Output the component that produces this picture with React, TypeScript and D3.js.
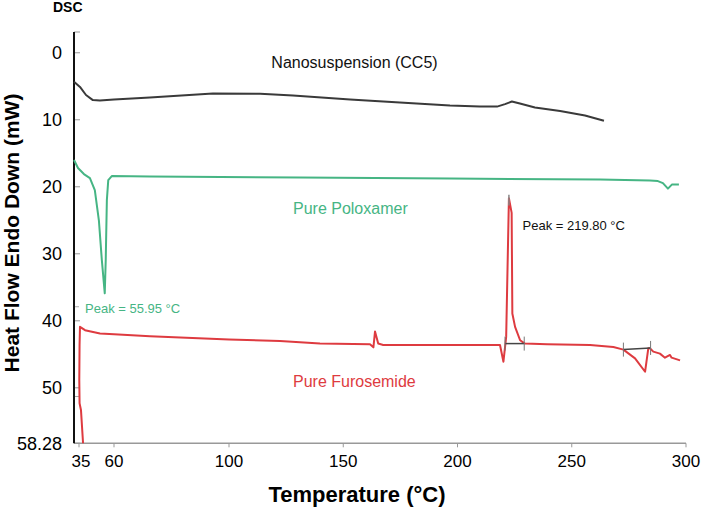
import React from "react";
import * as d3 from "d3";

// Nanosuspension (CC5)
const nanoTemp = [31.5, 35.7, 40, 44.9, 49.9, 60, 72.5, 94.4, 113.6, 128, 153, 174.8, 196.7, 209.8, 217.3, 220.8, 223.8, 227.3, 233.9, 244.9, 255.8, 264.1];
const nanoFlow = [4.33, 5.1, 6.3, 7.06, 7.13, 6.98, 6.69, 6.06, 6.13, 6.39, 6.98, 7.43, 7.88, 8.03, 8.03, 7.66, 7.28, 7.58, 8.18, 8.7, 9.37, 10.15];

// Pure Poloxamer
const poloTemp = [31.5, 34.3, 38.5, 42.8, 46.3, 49.2, 51.3, 53.4, 54.1, 54.9, 55.9, 58.4, 72.5, 131, 196.7, 262.4, 284.2, 287.7, 289.9, 292.1, 293.8, 296.9];
const poloFlow = [16.0, 17.2, 18.1, 18.7, 20.5, 25.0, 30.9, 35.9, 30.9, 22.0, 19.0, 18.4, 18.48, 18.63, 18.78, 18.93, 19.07, 19.15, 19.45, 20.27, 19.67, 19.67];

// Pure Furosemide
const furoTemp = [37.9, 36.4, 35.4, 35.2, 35.4, 35.7, 37.1, 39.3, 50, 60, 72.5, 100, 122.3, 139.8, 161.7, 163.2, 163.9, 165.3, 167.5, 196.7, 218.6, 220.1, 221.3, 222.5, 223.7, 224.0, 225.2, 227.4, 229.5, 239.2, 258.0, 268.2, 272.6, 277.7, 282.1, 283.5, 284.2, 285.7, 288.6, 290.8, 293.0, 293.7, 297.4];
const furoFlow = [58.28, 53.3, 52.3, 48.8, 43.6, 40.9, 41.1, 41.4, 41.9, 42.0, 42.3, 42.8, 43.0, 43.4, 43.5, 43.96, 41.6, 43.4, 43.6, 43.6, 43.6, 46.1, 42.4, 21.7, 23.9, 38.9, 40.9, 42.9, 43.4, 43.5, 43.6, 43.9, 44.3, 45.6, 47.6, 44.1, 44.1, 44.6, 44.9, 45.5, 45.1, 45.5, 45.9];

// integration baselines [t0, v0, t1, v1]
const baselines = [
  [220.8, 43.4, 229.2, 43.4],
  [272.6, 44.3, 284.5, 44.05],
];

const xTicks = [35, 60, 100, 150, 200, 250, 300];
const yTicks = [0, 10, 20, 30, 40, 50, 58.28];
const yMinorTicks = [37.9, 51.3];

const GREEN = "#46b584";
const RED = "#de3b40";
const DARK = "#3a3a3a";
const FONT = "'Liberation Sans', Arial, sans-serif";

export default function App() {
  // the printed temperature axis is not evenly spaced, so map it piecewise
  const x = d3.scaleLinear().domain([31.5, 35, 60, 100, 300]).range([74, 79, 114, 229, 686]);
  const y = d3.scaleLinear().domain([-3.1, 58.28]).range([32, 443.3]);

  const makePath = (ts: number[], vs: number[]) =>
    d3.line<[number, number]>()
      .x((d) => x(d[0]))
      .y((d) => y(d[1]))(ts.map((t, i) => [t, vs[i]] as [number, number])) || "";

  return (
    <svg width={710} height={508} style={{ position: "absolute", left: 0, top: 0, background: "#fff" }} fontFamily={FONT}>
      <text x={53} y={12} fontSize={14} fontWeight="bold">DSC</text>

      {/* x axis */}
      <line x1={74} x2={686} y1={y(58.28)} y2={y(58.28)} stroke="#999" strokeWidth={1.5} />
      {xTicks.map((t) => (
        <g key={t}>
          <line x1={x(t)} x2={x(t)} y1={y(58.28)} y2={y(58.28) + 4} stroke="#999" strokeWidth={1} />
          <text x={x(t) + (t === 35 ? 2 : 0)} y={467} fontSize={17} textAnchor="middle">{t}</text>
        </g>
      ))}

      {/* y axis */}
      {yTicks.map((v) => (
        <g key={v}>
          <line x1={74} x2={80} y1={y(v)} y2={y(v)} stroke="#999" strokeWidth={1} />
          <text x={62} y={y(v) + 6.3} fontSize={18} textAnchor="end">{v}</text>
        </g>
      ))}
      {yMinorTicks.map((v) => (
        <line key={v} x1={74} x2={79} y1={y(v)} y2={y(v)} stroke="#aaa" strokeWidth={1} />
      ))}
      <line x1={74} x2={80} y1={y(-3.1)} y2={y(-3.1)} stroke="#999" strokeWidth={1} />
      <line x1={74} x2={74} y1={y(-3.1)} y2={y(58.28)} stroke="#111" strokeWidth={2} />

      <text x={357} y={502} fontSize={22} fontWeight="bold" textAnchor="middle">Temperature (°C)</text>
      <text transform="translate(19,233) rotate(-90)" fontSize={21} fontWeight="bold" textAnchor="middle">Heat Flow Endo Down (mW)</text>

      {/* curves */}
      <path d={makePath(nanoTemp, nanoFlow)} fill="none" stroke={DARK} strokeWidth={2} strokeLinejoin="round" />
      <path d={makePath(poloTemp, poloFlow)} fill="none" stroke={GREEN} strokeWidth={2} strokeLinejoin="round" />
      <path d={makePath(furoTemp, furoFlow)} fill="none" stroke={RED} strokeWidth={2} strokeLinejoin="round" />

      {/* peak marker */}
      <line x1={x(222.5)} x2={x(222.5)} y1={y(21.2)} y2={y(22.8)} stroke="#888" strokeWidth={1.5} />

      {baselines.map((b, i) => (
        <g key={i} stroke="#444" strokeWidth={1.5}>
          <line x1={x(b[0])} x2={x(b[2])} y1={y(b[1])} y2={y(b[3])} />
          <line x1={x(b[0])} x2={x(b[0])} y1={y(b[1]) - 7} y2={y(b[1]) + 7} stroke="#777" strokeWidth={1} />
          <line x1={x(b[2])} x2={x(b[2])} y1={y(b[3]) - 7} y2={y(b[3]) + 7} stroke="#777" strokeWidth={1} />
        </g>
      ))}

      {/* labels */}
      <text x={354.5} y={68} fontSize={16} textAnchor="middle" fill="#111">Nanosuspension (CC5)</text>
      <text x={293} y={214} fontSize={16} fill={GREEN}>Pure Poloxamer</text>
      <text x={293} y={387} fontSize={16} fill={RED}>Pure Furosemide</text>
      <text x={522.5} y={229.5} fontSize={13} fill="#111">Peak = 219.80 °C</text>
      <text x={85} y={313} fontSize={13} fill={GREEN}>Peak = 55.95 °C</text>
    </svg>
  );
}
